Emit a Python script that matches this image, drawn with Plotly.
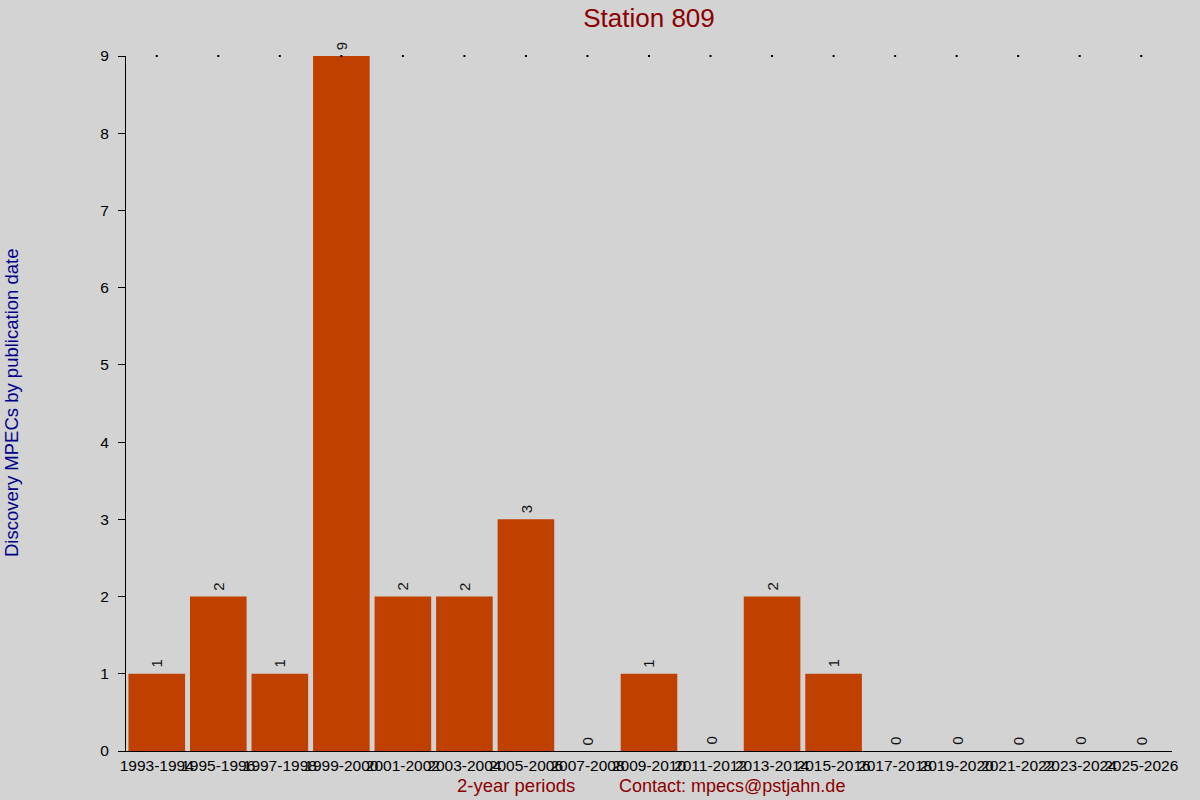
import plotly.graph_objects as go

periods = ["1993-1994", "1995-1996", "1997-1998", "1999-2000", "2001-2002",
           "2003-2004", "2005-2006", "2007-2008", "2009-2010", "2011-2012",
           "2013-2014", "2015-2016", "2017-2018", "2019-2020", "2021-2022",
           "2023-2024", "2025-2026"]
counts = [1, 2, 1, 9, 2, 2, 3, 0, 1, 0, 2, 1, 0, 0, 0, 0, 0]

title = "Station 809"
ytitle = "Discovery MPECs by publication date"
xtitle = "2-year periods"
contact = "Contact: mpecs@pstjahn.de"

bar_col = "#c04000"
bg = "#d3d3d3"
red = "#8b0000"

# plot area in pixels
L, R, T, B = 126, 1172, 56, 751
pw, ph = R - L, B - T

fig = go.Figure()
fig.add_trace(go.Bar(
    x=periods, y=counts,
    marker=dict(color=bar_col, line=dict(width=0)),
    width=0.92, hoverinfo="x+y",
))

# little dots along the top at each category
fig.add_trace(go.Scatter(
    x=periods, y=[max(counts)] * len(periods), mode="markers",
    marker=dict(symbol="square", size=2, color="black"),
    hoverinfo="skip", cliponaxis=False,
))

# value labels above the bars, rotated
labels = [dict(x=p, y=c, text=str(c), textangle=-90, showarrow=False,
               xanchor="center", yanchor="bottom", yshift=4,
               font=dict(size=15, color="#111111"))
          for p, c in zip(periods, counts)]

fig.update_layout(
    width=1200, height=800,
    paper_bgcolor=bg, plot_bgcolor=bg,
    margin=dict(l=L, r=1200 - R, t=T, b=800 - B),
    showlegend=False,
    font=dict(family="Liberation Sans, Arial", size=15, color="black"),
    title=dict(text=title, x=(L + R) / 2 / 1200, xanchor="center",
               y=1 - 18 / 800, yanchor="middle",
               font=dict(size=26, color=red)),
    annotations=labels + [
        dict(text=xtitle, x=(516 - L) / pw, y=-(786 - B) / ph,
             xref="paper", yref="paper", xanchor="center", yanchor="middle",
             showarrow=False, font=dict(size=18.5, color=red)),
        dict(text=contact, x=(732 - L) / pw, y=-(786 - B) / ph,
             xref="paper", yref="paper", xanchor="center", yanchor="middle",
             showarrow=False, font=dict(size=18, color=red)),
        dict(text=ytitle, x=(11 - L) / pw, y=(B - 403) / ph,
             xref="paper", yref="paper", xanchor="center", yanchor="middle",
             textangle=-90, showarrow=False,
             font=dict(size=18.5, color="#00008b")),
    ],
)

fig.update_xaxes(
    type="category", range=[-0.5, len(periods) - 0.5],
    showline=True, linecolor="black", linewidth=1,
    showgrid=False, zeroline=False, ticks="", tickangle=0,
    tickfont=dict(size=15.5, color="black"),
)
fig.update_yaxes(
    range=[0, max(counts)], dtick=1,
    showline=True, linecolor="black", linewidth=1,
    showgrid=False, zeroline=False, ticks="outside", ticklen=7,
    tickcolor="black", ticklabelstandoff=6,
    tickfont=dict(size=15.5, color="black"),
)

fig.write_html("out.html", config={"displayModeBar": False},
               post_script="document.body.style.margin='0';")
